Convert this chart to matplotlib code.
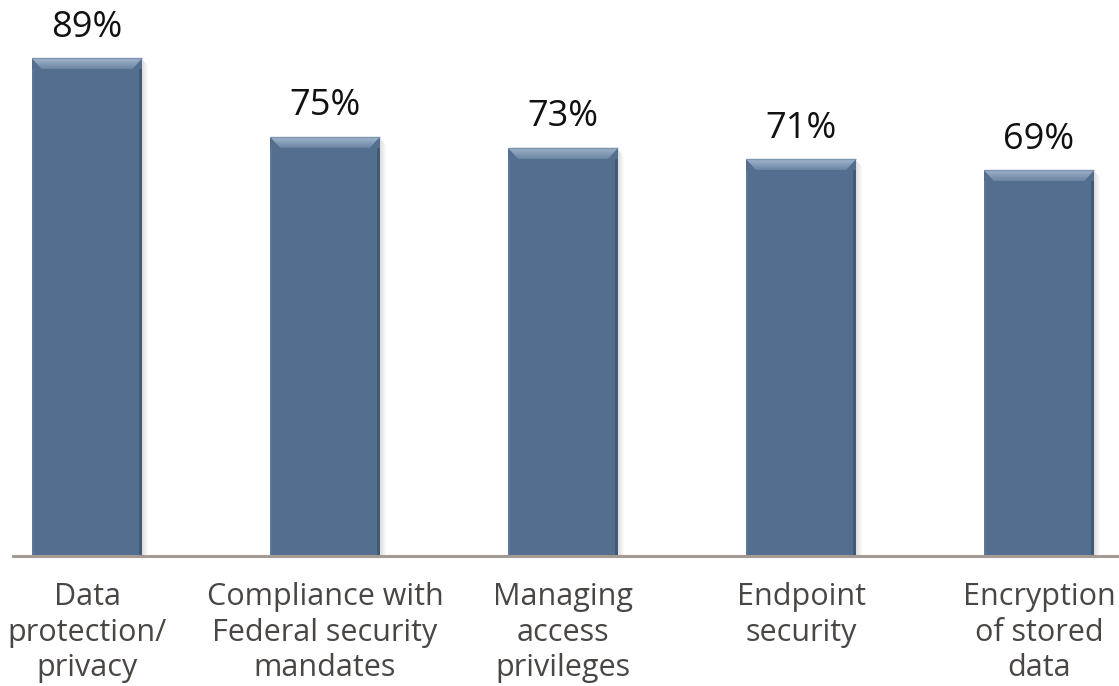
import numpy as np
import matplotlib
matplotlib.use("Agg")
import matplotlib.pyplot as plt
from matplotlib.patches import Polygon, Rectangle
from matplotlib.colors import LinearSegmentedColormap

# survey results (% of respondents)
categories = ["Data\nprotection/\nprivacy",
              "Compliance with\nFederal security\nmandates",
              "Managing\naccess\nprivileges",
              "Endpoint\nsecurity",
              "Encryption\nof stored\ndata"]
values = [89, 75, 73, 71, 69]

plt.rcParams['font.family'] = ['Open Sans', 'DejaVu Sans']

W, H, DPI = 1119, 686, 100
fig = plt.figure(figsize=(W / DPI, H / DPI), dpi=DPI)
base_px = 556          # baseline height from top, in pixels
ax = fig.add_axes([13 / W, (H - base_px) / H, (W - 13) / W, base_px / H])

bar_col = '#536e8e'
x = np.arange(len(values))
bars = ax.bar(x, values, width=0.462, color=bar_col, zorder=2, linewidth=0)

ax.set_xlim(-0.311, 4.336)
ax.set_ylim(0, 99.46)

# pixels per data unit, used for the bevel / shadow sizes
(px0, py0), (px1, py1) = ax.transData.transform([(0, 0), (1, 1)])
sx, sy = px1 - px0, py1 - py0

bevel = LinearSegmentedColormap.from_list('bev', ['#6a84a2', '#a3b7cd'])
grad = np.linspace(0, 1, 64).reshape(-1, 1)

for b in bars:
    x0, w, h = b.get_x(), b.get_width(), b.get_height()
    x1 = x0 + w
    bx, by = 10 / sx, 11 / sy

    # soft drop shadow on the right
    for k in range(6):
        ax.add_patch(Rectangle((x1 + k / sx, 0), 1 / sx, h - (2 + k) / sy,
                               color='#808080', alpha=0.25 * (1 - k / 6),
                               lw=0, zorder=1))

    # top bevel with a vertical gradient
    trap = Polygon([(x0, h), (x1, h), (x1 - bx, h - by), (x0 + bx, h - by)],
                   closed=True, fc='none', ec='none', zorder=3)
    ax.add_patch(trap)
    im = ax.imshow(grad, cmap=bevel, aspect='auto', origin='lower',
                   extent=[x0, x1, h - by, h], zorder=3, interpolation='bilinear')
    im.set_clip_path(trap)

    # side edges
    ax.add_patch(Rectangle((x1 - 3 / sx, 0), 3 / sx, h - by, color='#415a76',
                           lw=0, zorder=3))
    ax.add_patch(Rectangle((x0, 0), 2 / sx, h - by, color='#5c7797',
                           lw=0, zorder=3))
    ax.plot([x0, x1], [h, h], color='#7f95ae', lw=1, zorder=4,
            solid_capstyle='butt')

    # value label
    ax.annotate(f"{h:.0f}%", (b.get_x() + w / 2, h), xytext=(0, 15.5),
                textcoords='offset points', ha='center', va='baseline',
                fontsize=26, color='#111111')

# category labels under the baseline
for xi, lab in zip(x, categories):
    ax.annotate(lab, (xi, 0), xytext=(0, -19), textcoords='offset points',
                ha='center', va='top', fontsize=22, color='#4a4644',
                linespacing=1.24, multialignment='center', annotation_clip=False)

for s in ['top', 'left', 'right']:
    ax.spines[s].set_visible(False)
ax.spines['bottom'].set_color('#a39a93')
ax.spines['bottom'].set_linewidth(2.2)
ax.spines['bottom'].set_zorder(5)
ax.set_xticks([])
ax.set_yticks([])

fig.savefig('out.png', dpi=DPI)
